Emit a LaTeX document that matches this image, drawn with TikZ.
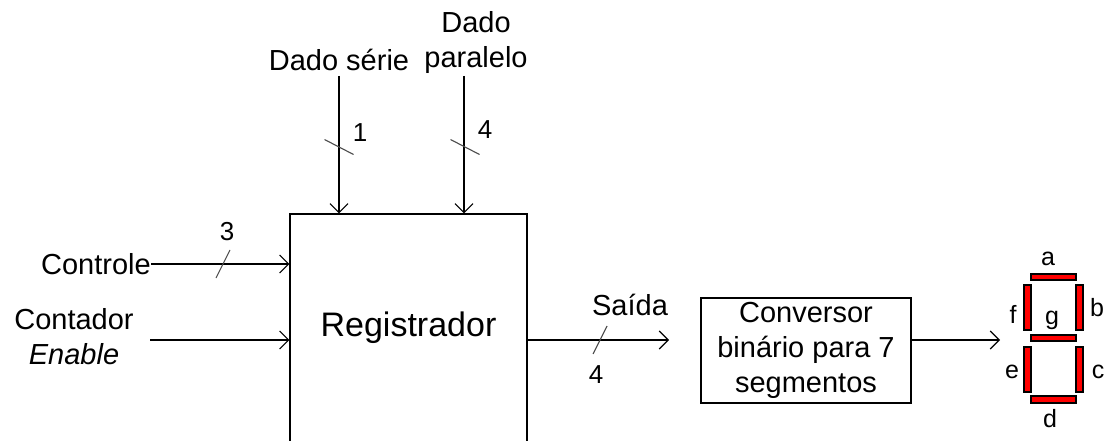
\documentclass[tikz,border=0pt]{standalone}
\usepackage{fontspec}
\setmainfont{Liberation Sans}
\usetikzlibrary{arrows.meta,calc}
\begin{document}
\begin{tikzpicture}[x=1pt,y=-1pt,
  lbl/.style={inner sep=0pt,font=\fontsize{29}{35}\selectfont,align=center},
  num/.style={inner sep=0pt,font=\fontsize{26}{30}\selectfont},
  seglbl/.style={inner sep=0pt,font=\fontsize{25}{28}\selectfont},
  wire/.style={line width=1.2pt,-{Straight Barb[length=9pt,width=18pt,line width=1.1pt]}},
  slash/.style={line width=1.1pt,gray!60!black},
  seg/.style={draw=black,line width=1.1pt,fill=red},
  box/.style={draw,line width=1.3pt,inner sep=0pt}]
\useasboundingbox (0,0) rectangle (1105,441);
\clip (0,0) rectangle (1105,441);
\fill[white] (0,0) rectangle (1105,441);

% register
\node[box,minimum width=237pt,minimum height=228pt,font=\fontsize{34}{40}\selectfont] (reg) at (408.5,328) {Registrador};

% top inputs
\node[lbl] (serie) at (339,60) {Dado série};
\node[lbl] (para) at (476,43) {Dado\\paralelo};
\coordinate (serieTop) at (339,76);
\coordinate (paraTop) at (464,76);
\draw[wire] (serieTop) -- (serieTop |- reg.north);
\draw[wire] (paraTop) -- (paraTop |- reg.north);
\coordinate (s1) at (339,147);
\coordinate (s2) at (465,147);
\draw[slash] ($(s1)+(-14.5,-7.5)$) -- ($(s1)+(14.5,7.5)$);
\draw[slash] ($(s2)+(-14.5,-7.5)$) -- ($(s2)+(14.5,7.5)$);
\node[num] (n1) at (360,133) {1};
\node[num] (n4a) at (485,130) {4};

% left inputs
\node[lbl,anchor=east] (ctrl) at (151,264) {Controle};
\draw[wire] (ctrl.east) -- (ctrl.east -| reg.west);
\coordinate (s3) at (223,264);
\draw[slash] ($(s3)+(-7,14)$) -- ($(s3)+(7,-14)$);
\node[num] (n3) at (227,232) {3};

\node[lbl] (cont) at (74,337) {Contador\\\textit{Enable}};
\coordinate (contStart) at (150,340);
\draw[wire] (contStart) -- (contStart -| reg.west);

% output
\coordinate (outEnd) at (669,340);
\draw[wire] (reg.east |- outEnd) -- (outEnd);
\coordinate (s4) at (600,340);
\draw[slash] ($(s4)+(-7,14)$) -- ($(s4)+(7,-14)$);
\node[lbl] (saida) at (630,305) {Saída};
\node[num] (n4b) at (596,375) {4};

% converter
\node[box,minimum width=210pt,minimum height=105pt,font=\fontsize{29}{35}\selectfont,align=center] (conv) at (806,350.5) {Conversor\\binário para 7\\segmentos};
\coordinate (dispIn) at (1000,340);
\draw[wire] (conv.east |- dispIn) -- (dispIn);

% seven segment display
\draw[seg] (1031,274) rectangle (1076,280); % a
\draw[seg] (1076,285) rectangle (1083,330); % b
\draw[seg] (1076,347) rectangle (1083,392); % c
\draw[seg] (1031,396) rectangle (1076,403); % d
\draw[seg] (1024,347) rectangle (1031,392); % e
\draw[seg] (1024,285) rectangle (1031,330); % f
\draw[seg] (1031,335) rectangle (1076,341); % g
\node[seglbl] (la) at (1048,259) {a};
\node[seglbl] (lb) at (1097,308) {b};
\node[seglbl] (lc) at (1098,372) {c};
\node[seglbl] (ld) at (1050,419) {d};
\node[seglbl] (le) at (1012,372) {e};
\node[seglbl] (lf) at (1013,314) {f};
\node[seglbl] (lg) at (1052,320) {g};
\end{tikzpicture}
\end{document}
